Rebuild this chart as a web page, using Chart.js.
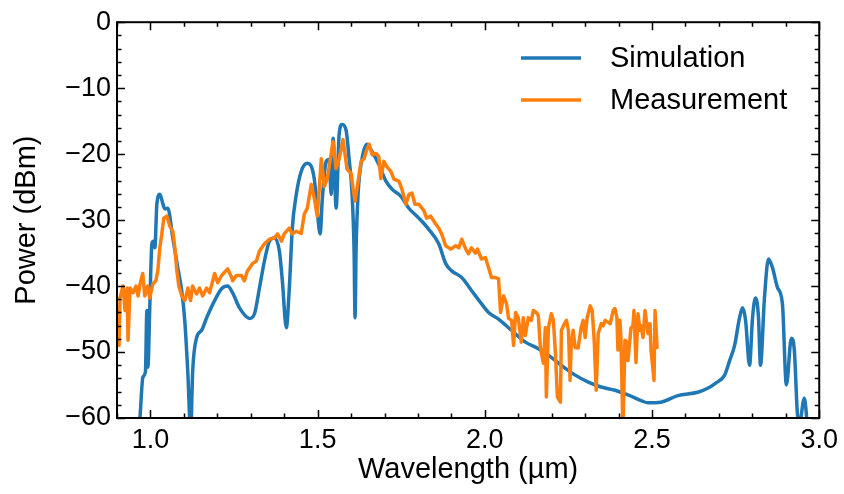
<!DOCTYPE html>
<html>
<head>
<meta charset="utf-8">
<script src="https://cdn.jsdelivr.net/npm/chart.js@4.4.0/dist/chart.umd.min.js"></script>
<style>
  html, body { margin: 0; padding: 0; background: #fff; }
  #wrap { width: 844px; height: 494px; }
</style>
</head>
<body>
<div id="wrap"><canvas id="spectrum" width="844" height="494"></canvas></div>
<script>
// Spectrum data, [wavelength (um), power (dBm)]
const simulation = [
  [0.955, -66], [0.9685, -60], [0.9775, -53.8], [0.985, -53.0], [0.9894, -43.7], [0.9923, -52.3],
  [0.9983, -42.7], [1.0043, -33.6], [1.009, -33.2], [1.0132, -34.2], [1.0192, -27.6], [1.0281, -26.1],
  [1.037, -27.5], [1.043, -28.3], [1.0519, -28.2], [1.0668, -32.7], [1.0817, -37.2], [1.0936, -40.7],
  [1.1026, -45.2], [1.1115, -52.8], [1.1204, -62], [1.1264, -52.8], [1.1383, -47.8], [1.1532, -46.7],
  [1.1681, -44.8], [1.1919, -42.2], [1.2128, -40.4], [1.2307, -40.0], [1.2455, -41.0], [1.2664, -43.3],
  [1.2962, -44.9], [1.3111, -44.2], [1.326, -40.3], [1.3409, -36.2], [1.3558, -33.2], [1.3707, -32.7],
  [1.3856, -34.7], [1.3945, -39.2], [1.4064, -46.3], [1.4153, -40.3], [1.4243, -31.2], [1.4362, -26.1],
  [1.4511, -22.6], [1.469, -21.4], [1.4898, -23.7], [1.4988, -28.6], [1.5077, -32.1], [1.5136, -27.1],
  [1.5256, -21.1], [1.5345, -20.8], [1.5404, -26.1], [1.5464, -17.6], [1.5553, -28.2], [1.5643, -17.0],
  [1.5732, -15.5], [1.5851, -16.4], [1.5941, -20.7], [1.603, -26.1], [1.609, -34.7], [1.6119, -44.8],
  [1.6149, -34.7], [1.6209, -26.1], [1.6328, -20.7], [1.6477, -18.5], [1.6626, -19.6], [1.6834, -21.6],
  [1.7043, -24.1], [1.7222, -25.3], [1.749, -26.4], [1.7728, -28.2], [1.8026, -29.7], [1.8324, -31.4],
  [1.8622, -33.6], [1.883, -36.6], [1.9009, -37.7], [1.9307, -38.7], [1.9605, -40.7], [1.9903, -42.7],
  [2.0111, -44.0], [2.0409, -45.0], [2.0796, -46.7], [2.1213, -48.5], [2.16, -49.5], [2.1988, -50.8],
  [2.2286, -52.0], [2.2703, -53.5], [2.3111, -54.6], [2.3477, -55.3], [2.3894, -55.8], [2.4281, -56.5],
  [2.4689, -57.4], [2.4877, -57.7], [2.5264, -57.6], [2.5771, -56.6], [2.6367, -56.1], [2.6665, -55.5],
  [2.6903, -54.7], [2.7171, -53.5], [2.732, -51.3], [2.7469, -49.0], [2.7618, -44.8], [2.7707, -43.3],
  [2.7797, -45.2], [2.7916, -52.0], [2.8005, -44.8], [2.8094, -41.8], [2.8184, -44.8], [2.8243, -52.0],
  [2.8362, -41.8], [2.8482, -35.9], [2.8601, -37.2], [2.875, -40.2], [2.8899, -42.7], [2.9018, -55.0],
  [2.9167, -47.9], [2.9256, -49.8], [2.9345, -59.2], [2.9405, -61], [2.9554, -57.0], [2.9643, -61],
  [2.9733, -66]
];

const measurement = [
  [0.906, -49.0], [0.909, -41.8], [0.918, -40.0], [0.924, -43.7], [0.930, -40.3], [0.933, -48.2],
  [0.939, -40.3], [0.948, -41.0], [0.957, -40.0], [0.963, -41.5], [0.969, -39.7], [0.977, -38.1],
  [0.983, -41.5], [0.992, -40.0], [0.998, -41.8], [1.007, -39.7], [1.016, -39.2], [1.022, -37.7],
  [1.028, -34.2], [1.034, -32.1], [1.040, -29.7], [1.049, -29.4], [1.058, -30.9], [1.067, -31.7],
  [1.073, -34.2], [1.079, -37.7], [1.085, -40.0], [1.094, -41.5], [1.103, -42.2], [1.112, -40.3],
  [1.120, -42.2], [1.126, -40.0], [1.138, -41.2], [1.147, -40.3], [1.156, -41.5], [1.168, -40.3],
  [1.177, -41.0], [1.192, -38.1], [1.201, -39.5], [1.213, -38.4], [1.231, -37.4], [1.243, -38.7],
  [1.246, -39.2], [1.257, -38.4], [1.272, -38.4], [1.281, -39.2], [1.290, -37.7], [1.305, -36.6],
  [1.317, -36.2], [1.326, -34.7], [1.341, -33.6], [1.356, -32.9], [1.371, -32.7], [1.380, -32.1],
  [1.392, -33.2], [1.400, -32.1], [1.415, -31.2], [1.424, -32.1], [1.436, -31.7], [1.451, -32.0],
  [1.460, -29.1], [1.469, -28.2], [1.481, -24.6], [1.490, -26.7], [1.499, -29.4], [1.511, -20.7],
  [1.520, -24.9], [1.529, -23.7], [1.540, -20.1], [1.546, -18.1], [1.555, -22.2], [1.564, -20.8],
  [1.576, -17.8], [1.588, -22.3], [1.600, -22.9], [1.606, -25.2], [1.612, -27.1], [1.621, -24.1],
  [1.630, -21.1], [1.639, -20.7], [1.645, -19.6], [1.654, -18.5], [1.663, -20.1], [1.675, -19.9],
  [1.683, -20.4], [1.689, -23.7], [1.698, -21.1], [1.707, -21.9], [1.719, -22.6], [1.728, -23.8],
  [1.743, -24.1], [1.752, -25.3], [1.764, -27.6], [1.773, -26.1], [1.782, -25.9], [1.791, -27.6],
  [1.803, -27.6], [1.818, -28.6], [1.826, -29.7], [1.838, -29.4], [1.853, -30.6], [1.862, -31.2],
  [1.871, -32.1], [1.883, -33.9], [1.898, -34.4], [1.913, -33.9], [1.922, -34.2], [1.931, -32.9],
  [1.943, -34.4], [1.951, -35.1], [1.960, -34.2], [1.972, -35.0], [1.978, -34.4], [1.990, -35.9],
  [2.002, -35.7], [2.011, -37.2], [2.020, -38.7], [2.032, -38.7], [2.041, -38.9], [2.047, -44.0],
  [2.056, -41.5], [2.065, -42.7], [2.071, -44.9], [2.080, -45.2], [2.086, -49.0], [2.092, -44.0],
  [2.100, -44.8], [2.109, -48.5], [2.115, -44.8], [2.121, -47.5], [2.130, -44.8], [2.139, -45.2],
  [2.145, -43.7], [2.154, -44.0], [2.160, -44.5], [2.166, -49.3], [2.175, -51.7], [2.181, -46.3],
  [2.184, -56.8], [2.190, -46.3], [2.199, -44.2], [2.205, -45.2], [2.211, -50.1], [2.217, -56.8],
  [2.226, -57.6], [2.229, -46.7], [2.238, -45.7], [2.244, -45.2], [2.250, -46.7], [2.255, -54.3],
  [2.258, -49.3], [2.264, -46.7], [2.270, -49.3], [2.279, -49.4], [2.288, -46.3], [2.294, -45.2],
  [2.300, -47.8], [2.306, -44.8], [2.315, -43.0], [2.321, -43.7], [2.327, -48.2], [2.333, -55.8],
  [2.339, -47.2], [2.348, -45.7], [2.354, -46.0], [2.360, -45.2], [2.369, -45.5], [2.375, -45.7],
  [2.384, -43.7], [2.389, -43.4], [2.395, -44.8], [2.398, -49.7], [2.404, -45.2], [2.407, -47.9],
  [2.413, -62], [2.419, -48.2], [2.425, -48.5], [2.428, -51.3], [2.437, -46.4], [2.443, -46.0],
  [2.446, -43.7], [2.452, -51.6], [2.458, -44.2], [2.464, -46.7], [2.467, -46.0], [2.473, -47.8],
  [2.479, -43.7], [2.488, -47.2], [2.494, -45.7], [2.497, -49.7], [2.506, -54.3], [2.509, -43.7],
  [2.515, -49.3]
];

const seriesNames = ['Simulation', 'Measurement'];
const seriesColors = ['#1f77b4', '#ff7f0e'];
const xTickValues = [1.0, 1.5, 2.0, 2.5, 3.0];
const yTickValues = [-60, -50, -40, -30, -20, -10, 0];

const FONT = '"Liberation Sans", Arial, Helvetica, sans-serif';
Chart.defaults.font.family = FONT;
Chart.defaults.color = '#000';

const toPoints = arr => arr.map(p => ({ x: p[0], y: p[1] }));

// box around the plot with inward ticks on all four sides
const frameTicks = {
    id: 'frameTicks',
    afterDatasetsDraw(chart) {
        const { ctx, chartArea: a, scales: { x, y } } = chart;
        ctx.save();
        ctx.strokeStyle = '#000';
        ctx.lineWidth = 1.5;
        ctx.beginPath();
        for (let i = 9; i <= 30; i++) {
            const px = Math.round(x.getPixelForValue(i / 10)) + 0.5;
            const len = i % 5 === 0 ? 8 : 4.5;
            ctx.moveTo(px, a.bottom); ctx.lineTo(px, a.bottom - len);
            ctx.moveTo(px, a.top); ctx.lineTo(px, a.top + len);
        }
        for (let v = -60; v <= 0; v += 2) {
            const py = Math.round(y.getPixelForValue(v)) + 0.5;
            const len = v % 10 === 0 ? 8 : 4.5;
            ctx.moveTo(a.left, py); ctx.lineTo(a.left + len, py);
            ctx.moveTo(a.right, py); ctx.lineTo(a.right - len, py);
        }
        ctx.stroke();
        ctx.lineWidth = 2;
        ctx.strokeRect(a.left, a.top, a.right - a.left, a.bottom - a.top);
        ctx.restore();
    },
    afterDraw(chart) {
        // legend inside the upper right corner
        const { ctx } = chart;
        ctx.save();
        ctx.font = '29px ' + FONT;
        ctx.textBaseline = 'middle';
        ctx.lineWidth = 3.5;
        seriesNames.forEach((name, i) => {
            const yy = 58 + i * 42;
            ctx.strokeStyle = seriesColors[i];
            ctx.beginPath();
            ctx.moveTo(521, yy);
            ctx.lineTo(581, yy);
            ctx.stroke();
            ctx.fillStyle = '#000';
            ctx.fillText(name, 610, yy + 1);
        });
        ctx.restore();
    }
};

new Chart(document.getElementById('spectrum'), {
    type: 'line',
    data: {
        datasets: [
            {
                label: seriesNames[0],
                data: toPoints(simulation),
                borderColor: seriesColors[0],
                borderWidth: 3.5,
                cubicInterpolationMode: 'monotone',
                borderJoinStyle: 'round',
                borderCapStyle: 'round',
                pointRadius: 0,
                order: 1
            },
            {
                label: seriesNames[1],
                data: toPoints(measurement),
                borderColor: seriesColors[1],
                borderWidth: 3.5,
                tension: 0,
                borderJoinStyle: 'round',
                borderCapStyle: 'round',
                pointRadius: 0,
                order: 0
            }
        ]
    },
    options: {
        responsive: false,
        animation: false,
        layout: { padding: { left: 0, right: 22, top: 20, bottom: 0 }, autoPadding: false },
        plugins: { legend: { display: false }, tooltip: { enabled: false } },
        scales: {
            x: {
                type: 'linear',
                min: 0.9,
                max: 3.0,
                grid: { display: false, drawTicks: false },
                border: { display: false },
                afterBuildTicks: s => { s.ticks = xTickValues.map(v => ({ value: v })); },
                afterFit: s => { s.height = 76; },
                ticks: {
                    padding: 6,
                    autoSkip: false,
                    maxRotation: 0,
                    font: { size: 27 },
                    callback: v => Number(v).toFixed(1)
                },
                title: {
                    display: true,
                    text: 'Wavelength (µm)',
                    font: { size: 29 },
                    padding: { top: 0, bottom: 7 }
                }
            },
            y: {
                type: 'linear',
                min: -60,
                max: 0,
                grid: { display: false, drawTicks: false },
                border: { display: false },
                afterBuildTicks: s => { s.ticks = yTickValues.map(v => ({ value: v })); },
                afterFit: s => { s.width = 117; },
                ticks: {
                    padding: 6,
                    autoSkip: false,
                    font: { size: 27 },
                    callback: v => String(v).replace('-', '\u2212')
                },
                title: {
                    display: true,
                    text: 'Power (dBm)',
                    font: { size: 29 },
                    padding: { top: 10, bottom: 0 }
                }
            }
        }
    },
    plugins: [frameTicks]
});
</script>
</body>
</html>
